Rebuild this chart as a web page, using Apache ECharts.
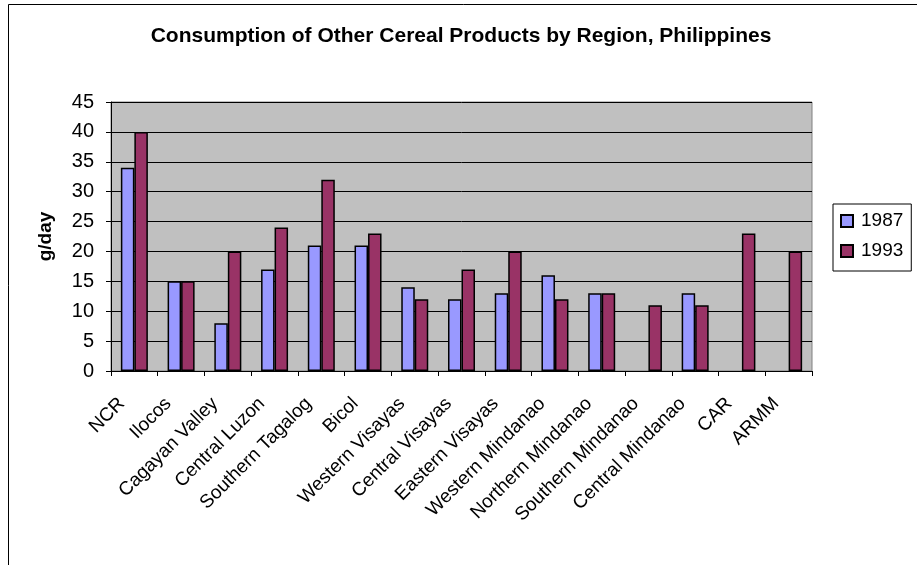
<!DOCTYPE html>
<html>
<head>
<meta charset="utf-8">
<script src="https://cdn.jsdelivr.net/npm/echarts@6/dist/echarts.min.js"></script>
<style>
  html, body { margin: 0; padding: 0; background: #fff; }
  #chart { width: 917px; height: 565px; }
</style>
</head>
<body>
<div id="chart"></div>
<script>
// regions along the x axis
var regions = ["NCR", "Ilocos", "Cagayan Valley", "Central Luzon", "Southern Tagalog", "Bicol",
  "Western Visayas", "Central Visayas", "Eastern Visayas", "Western Mindanao", "Northern Mindanao",
  "Southern Mindanao", "Central Mindanao", "CAR", "ARMM"];
// g/day, "-" = no bar
var y1987 = [34, 15, 8, 17, 21, 21, 14, 12, 13, 16, 13, "-", 13, "-", "-"];
var y1993 = [40, 15, 20, 24, 32, 23, 12, 17, 20, 12, 13, 11, 11, 23, 20];

var myChart = echarts.init(document.getElementById("chart"));
var font = "Liberation Sans, Arial, sans-serif";

myChart.setOption({
  animation: false,
  textStyle: { fontFamily: font },
  title: {
    text: "Consumption of Other Cereal Products by Region, Philippines",
    left: 456, top: 21, textAlign: "center",
    textStyle: { fontSize: 21, fontWeight: "bold", color: "#000", fontFamily: font }
  },
  graphic: [
    // outer chart frame, runs off the right/bottom edge
    { type: "rect", shape: { x: 8.5, y: 4.5, width: 1000, height: 1000 },
      style: { fill: null, stroke: "#000", lineWidth: 1 }, z: -1 }
  ],
  legend: {
    orient: "vertical",
    left: 833, top: 204,
    data: ["1987", "1993"],
    itemWidth: 12, itemHeight: 12, itemGap: 10,
    padding: [7, 8, 10, 7],
    borderColor: "#000", borderWidth: 1,
    icon: "rect",
    textStyle: { fontSize: 19, lineHeight: 20, color: "#000", fontFamily: font, padding: [0, 0, 0, 3] }
  },
  grid: {
    left: 111, top: 102, width: 701, height: 269,
    show: true, backgroundColor: "#c0c0c0", borderColor: "#808080", borderWidth: 1
  },
  xAxis: {
    type: "category",
    data: regions,
    axisLine: { lineStyle: { color: "#000", width: 1 } },
    axisTick: { show: true, alignWithLabel: false, length: 5, lineStyle: { color: "#000" } },
    axisLabel: {
      rotate: 45, fontSize: 19, color: "#000", margin: 17, interval: 0,
      padding: [0, 18, 0, 0], fontFamily: font
    }
  },
  yAxis: {
    type: "value",
    min: 0, max: 45, interval: 5,
    name: "g/day",
    nameLocation: "middle",
    nameRotate: 90,
    nameGap: 56,
    nameTextStyle: { fontSize: 19, fontWeight: "bold", color: "#000", fontFamily: font },
    axisLine: { show: true, lineStyle: { color: "#000", width: 1 } },
    axisTick: { show: true, inside: false, length: 5, lineStyle: { color: "#000" } },
    axisLabel: { fontSize: 20, color: "#000", margin: 17, fontFamily: font },
    splitLine: { lineStyle: { color: "#000", width: 1 } }
  },
  series: [
    {
      name: "1987", type: "bar", data: y1987,
      barWidth: 13.5, barGap: "0%",
      itemStyle: { color: "#9999ff", borderColor: "#000", borderWidth: 1.5 }
    },
    {
      name: "1993", type: "bar", data: y1993,
      barWidth: 13.5,
      itemStyle: { color: "#993366", borderColor: "#000", borderWidth: 1.5 }
    }
  ]
});
</script>
</body>
</html>
